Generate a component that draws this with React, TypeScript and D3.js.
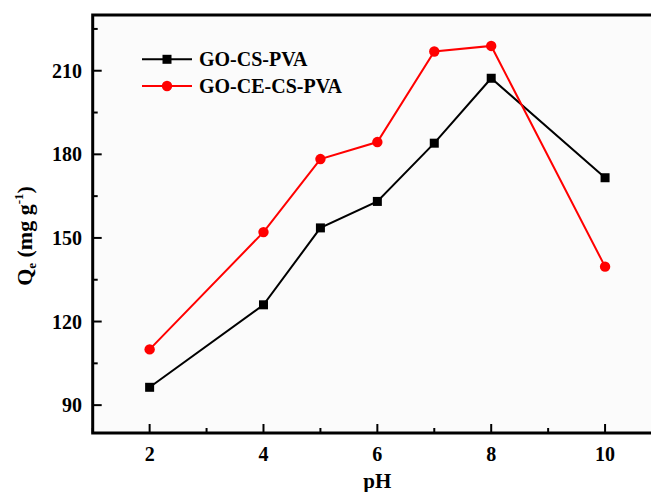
import React, { useEffect, useRef } from 'react';
import * as d3 from 'd3';

// pH values and adsorption capacities
const phValues = [2, 4, 5, 6, 7, 8, 10];
const goCsPva = [96.4, 126.0, 153.6, 163.1, 184.0, 207.3, 171.6];
const goCeCsPva = [110.0, 152.1, 178.3, 184.4, 216.9, 218.9, 139.7];
const seriesNames = ['GO-CS-PVA', 'GO-CE-CS-PVA'];
const seriesColors = ['#000000', '#ff0000'];
const xMajorTicks = [2, 4, 6, 8, 10];
const xMinorTicks = [1, 3, 5, 7, 9, 11];
const yMajorTicks = [90, 120, 150, 180, 210];
const yMinorTicks = [105, 135, 165, 195, 225];

const W = 651, H = 492;
const FONT = '"Liberation Serif", "Times New Roman", serif';

const App = () => {
    const svgRef = useRef<SVGSVGElement>(null);

    useEffect(() => {
        if (!svgRef.current) return;
        const svg = d3.select(svgRef.current);
        svg.selectAll('*').remove();

        const left = 92.7, top = 15, bottom = 433, right = 662;
        const x = d3.scaleLinear().domain([1, 11]).range([left, right]);
        const y = d3.scaleLinear().domain([80, 230]).range([bottom, top]);

        svg.append('rect').attr('width', W).attr('height', H).attr('fill', '#ffffff');
        svg.append('rect').attr('x', left).attr('y', top)
            .attr('width', right - left).attr('height', bottom - top).attr('fill', '#fbfbfb');

        const g = svg.append('g');

        // ticks (inward)
        const axisStroke = 2;
        g.selectAll('.xmaj').data(xMajorTicks).enter().append('line')
            .attr('x1', d => x(d)).attr('x2', d => x(d))
            .attr('y1', bottom).attr('y2', bottom - 9)
            .attr('stroke', '#000').attr('stroke-width', axisStroke);
        g.selectAll('.xmin').data(xMinorTicks).enter().append('line')
            .attr('x1', d => x(d)).attr('x2', d => x(d))
            .attr('y1', bottom).attr('y2', bottom - 5)
            .attr('stroke', '#000').attr('stroke-width', axisStroke);
        g.selectAll('.ymaj').data(yMajorTicks).enter().append('line')
            .attr('x1', left).attr('x2', left + 9)
            .attr('y1', d => y(d)).attr('y2', d => y(d))
            .attr('stroke', '#000').attr('stroke-width', axisStroke);
        g.selectAll('.ymin').data(yMinorTicks).enter().append('line')
            .attr('x1', left).attr('x2', left + 5)
            .attr('y1', d => y(d)).attr('y2', d => y(d))
            .attr('stroke', '#000').attr('stroke-width', axisStroke);

        // tick labels
        g.selectAll('.xlab').data(xMajorTicks).enter().append('text')
            .attr('x', d => x(d)).attr('y', 461)
            .attr('text-anchor', 'middle')
            .attr('font-family', FONT).attr('font-weight', 'bold').attr('font-size', 20)
            .text(d => d);
        g.selectAll('.ylab').data(yMajorTicks).enter().append('text')
            .attr('x', 82).attr('y', d => y(d)).attr('dy', '0.35em')
            .attr('text-anchor', 'end')
            .attr('font-family', FONT).attr('font-weight', 'bold').attr('font-size', 20)
            .text(d => d);

        // axis titles
        svg.append('text').attr('x', x(6)).attr('y', 488)
            .attr('text-anchor', 'middle')
            .attr('font-family', FONT).attr('font-weight', 'bold').attr('font-size', 21)
            .text('pH');
        const yt = svg.append('text')
            .attr('transform', 'translate(32,236) rotate(-90)')
            .attr('text-anchor', 'middle')
            .attr('font-family', FONT).attr('font-weight', 'bold').attr('font-size', 22);
        yt.append('tspan').text('Q');
        yt.append('tspan').attr('font-size', 13).attr('dy', 4).text('e');
        yt.append('tspan').attr('dy', -4).text(' (mg g');
        yt.append('tspan').attr('font-size', 13).attr('dy', -9).text('-1');
        yt.append('tspan').attr('dy', 9).text(')');

        // series
        const series = [goCsPva, goCeCsPva];
        const line = d3.line<number>().x((_, i) => x(phValues[i])).y(d => y(d));
        series.forEach((vals, si) => {
            g.append('path').datum(vals).attr('d', line)
                .attr('fill', 'none').attr('stroke', seriesColors[si]).attr('stroke-width', 2);
            if (si === 0) {
                g.selectAll(`.pt${si}`).data(vals).enter().append('rect')
                    .attr('x', (_, i) => x(phValues[i]) - 4.5).attr('y', d => y(d) - 4.5)
                    .attr('width', 9).attr('height', 9).attr('fill', seriesColors[si]);
            } else {
                g.selectAll(`.pt${si}`).data(vals).enter().append('circle')
                    .attr('cx', (_, i) => x(phValues[i])).attr('cy', d => y(d))
                    .attr('r', 5.2).attr('fill', seriesColors[si]);
            }
        });

        // frame
        g.append('path')
            .attr('d', `M${right},${top}H${left}V${bottom}H${right}`)
            .attr('fill', 'none').attr('stroke', '#000').attr('stroke-width', 3);

        // legend
        const lg = svg.append('g');
        seriesNames.forEach((name, i) => {
            const ly = 59.3 + i * 26.7;
            lg.append('line').attr('x1', 142).attr('x2', 192).attr('y1', ly).attr('y2', ly)
                .attr('stroke', seriesColors[i]).attr('stroke-width', 2);
            if (i === 0) {
                lg.append('rect').attr('x', 167 - 4.5).attr('y', ly - 4.5)
                    .attr('width', 9).attr('height', 9).attr('fill', seriesColors[i]);
            } else {
                lg.append('circle').attr('cx', 167).attr('cy', ly).attr('r', 5.2)
                    .attr('fill', seriesColors[i]);
            }
            lg.append('text').attr('x', 199).attr('y', ly).attr('dy', '0.35em')
                .attr('font-family', FONT).attr('font-weight', 'bold').attr('font-size', 20)
                .text(name);
        });
    }, []);

    return (
        <svg ref={svgRef} width={W} height={H}
            style={{ position: 'absolute', left: 0, top: 0 }} />
    );
};

export default App;
